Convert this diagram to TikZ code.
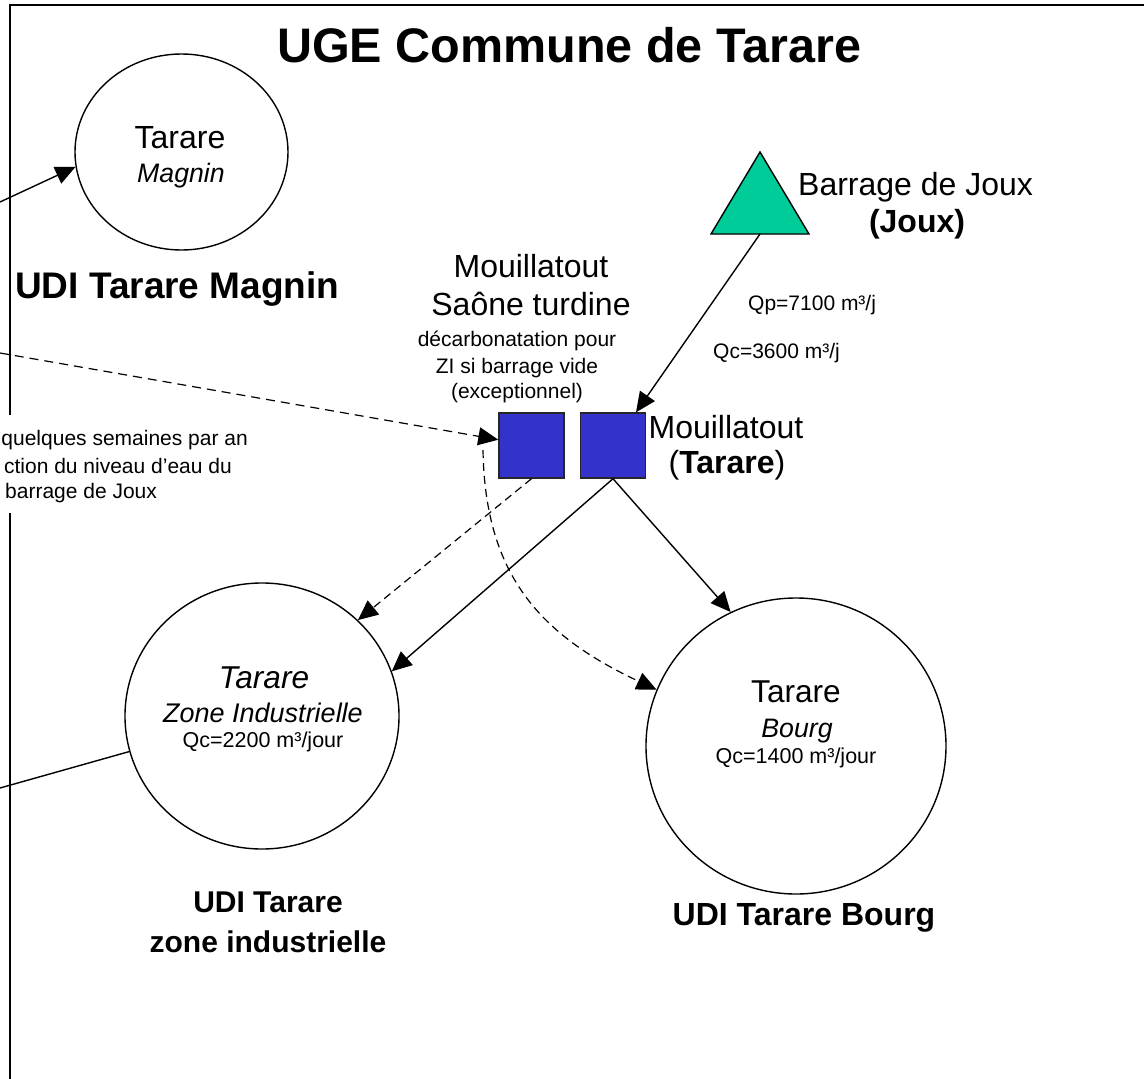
\documentclass[tikz,border=0pt]{standalone}
\usepackage{fontspec}
\setmainfont{Liberation Sans}
\usetikzlibrary{arrows.meta,calc,shapes.geometric}
\definecolor{dgreen}{RGB}{0,204,153}
\definecolor{dblue}{RGB}{51,51,204}
\begin{document}
\begin{tikzpicture}[x=1pt,y=-1pt,
  lbl/.style={inner sep=0pt, anchor=base},
  arr/.style={-{Triangle[length=20pt,width=18pt]}, line width=1.4pt},
  darr/.style={arr, line width=1.2pt, dash pattern=on 9pt off 6pt},
  udi/.style={ellipse, draw, line width=1.4pt, inner sep=0pt},
  sq/.style={draw=black!85, line width=1.4pt, fill=dblue, minimum width=65pt, minimum height=65pt, inner sep=0pt},
  fbig/.style={font=\fontsize{32}{38}\selectfont},
  fmid/.style={font=\fontsize{26.7}{32}\selectfont\itshape},
  fsmall/.style={font=\fontsize{21}{25}\selectfont},
]
\useasboundingbox (0,0) rectangle (1144,1079);
% frame
\draw[line width=1.8pt] (1150,5) -- (10,5) -- (10,415);
\draw[line width=1.8pt] (10,513) -- (10,1090);

% nodes
\node[udi, minimum width=213pt, minimum height=196pt] (magnin) at (181.5,152) {};
\node[udi, minimum width=274pt, minimum height=266pt] (zi) at (262,716) {};
\node[udi, minimum width=300pt, minimum height=296pt] (bourg) at (796,746) {};
\node[sq] (sq1) at (531.5,445.5) {};
\node[sq] (sq2) at (613,445.5) {};
\draw[fill=dgreen, line width=1.4pt, line join=miter] (760,152) -- (809,234) -- (711,234) -- cycle;
\coordinate (tb) at (760,234);

% free ends
\coordinate (m0) at (0,202);
\coordinate (d0) at (0,353);
\coordinate (z0) at (0,788);
\coordinate (c0) at (483,450);

% texts
\node[lbl, font=\fontsize{48.5}{58}\selectfont\bfseries] (title) at (569,62) {UGE Commune de Tarare};
\node[lbl, fbig] (mt) at (180,148) {Tarare};
\node[lbl, fmid] (mm) at (181,182) {Magnin};
\node[lbl, anchor=base west, font=\fontsize{37}{44}\selectfont\bfseries] (udim) at (15,298) {UDI Tarare Magnin};
\node[lbl, anchor=base west, fbig] (bj) at (798,195) {Barrage de Joux};
\node[lbl, font=\fontsize{32}{38}\selectfont\bfseries] (bj2) at (917,232) {(Joux)};
\node[lbl, anchor=base west, fsmall] (qp) at (748,310) {Qp=7100 m³/j};
\node[lbl, anchor=base west, fsmall] (qc) at (713,358) {Qc=3600 m³/j};
\node[lbl, fbig] (ms1) at (531,277) {Mouillatout};
\node[lbl, fbig] (ms2) at (531,315) {Saône turdine};
\node[lbl, fsmall] (ms3) at (517,346) {décarbonatation pour};
\node[lbl, fsmall] (ms4) at (517,373) {ZI si barrage vide};
\node[lbl, fsmall] (ms5) at (517,398) {(exceptionnel)};
\node[lbl, fbig] (mr1) at (726,438) {Mouillatout};
\node[lbl, fbig] (mr2) at (727,473) {(\textbf{Tarare})};
\node[lbl, anchor=base east, fsmall] (n1) at (248,445) {quelques semaines par an};
\node[lbl, anchor=base east, fsmall] (n2) at (232,473) {ction du niveau d’eau du};
\node[lbl, anchor=base west, fsmall] (n3) at (5,498) {barrage de Joux};
\node[lbl, font=\fontsize{31.6}{38}\selectfont\itshape] (zt1) at (264,688) {Tarare};
\node[lbl, font=\fontsize{27}{32}\selectfont\itshape] (zt2) at (263,722) {Zone Industrielle};
\node[lbl, font=\fontsize{21.5}{26}\selectfont] (zt3) at (263,747) {Qc=2200 m³/jour};
\node[lbl, font=\fontsize{31.6}{38}\selectfont] (bt1) at (796,702) {Tarare};
\node[lbl, fmid] (bt2) at (797,737) {Bourg};
\node[lbl, font=\fontsize{21.5}{26}\selectfont] (bt3) at (796,763) {Qc=1400 m³/jour};
\node[lbl, font=\fontsize{30}{36}\selectfont\bfseries] (uz1) at (268,912) {UDI Tarare};
\node[lbl, font=\fontsize{30}{36}\selectfont\bfseries] (uz2) at (268,952) {zone industrielle};
\node[lbl, font=\fontsize{32}{38}\selectfont\bfseries] (ub) at (804,925) {UDI Tarare Bourg};

% connectors
\draw[arr] (m0) -- (magnin.188.5);
\draw[line width=1.4pt] (zi.195.4) -- (z0);
\draw[arr] (tb) -- (sq2);
\draw[arr] (sq2.south) -- (zi.19.7);
\draw[arr] (sq2.south) -- (bourg.116);
\draw[darr, dash pattern=on 8pt off 5pt] (sq1.south) -- (zi.45.6);
\draw[darr] (d0) -- (sq1);
\draw[darr, dash pattern=on 8pt off 5pt] (c0) .. controls (485,575) and (540,635) .. (bourg.158);
\end{tikzpicture}
\end{document}
